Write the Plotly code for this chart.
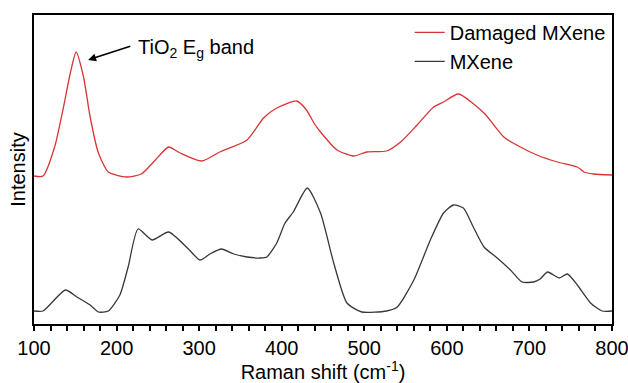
import plotly.graph_objects as go

# Damaged MXene (arbitrary intensity units)
shift_damaged = [100, 111, 125, 135, 144, 151, 160, 168, 178, 190, 212, 230, 247, 263, 277,
                 303, 325, 358, 378, 394, 418, 430, 439, 447, 467, 487, 503, 527, 544, 564,
                 584, 596, 614, 645, 669, 689, 709, 734, 758, 766, 778, 800]
int_damaged = [148, 148, 177, 214, 251, 272, 247, 207, 171, 152, 147, 150, 164, 177, 171,
               163, 172, 184, 206, 216, 223, 214, 201, 192, 174, 168, 172, 173, 182, 199,
               217, 222, 230, 211, 187, 177, 169, 162, 157, 152, 150, 149]

# MXene
shift_mxene = [100, 111, 138, 152, 168, 178, 190, 204, 214, 226, 243, 263, 287, 301, 313,
               327, 342, 358, 374, 382, 394, 404, 414, 431, 447, 463, 479, 497, 527, 540,
               560, 580, 596, 608, 620, 632, 645, 661, 677, 691, 705, 713, 722, 736, 746,
               758, 774, 788, 800]
int_mxene = [13, 13, 34, 27, 19, 12, 13, 29, 57, 95, 84, 92, 75, 64, 70,
             75, 70, 67, 66, 67, 81, 101, 112, 136, 111, 61, 21, 12, 13, 17,
             44, 84, 111, 119, 116, 97, 77, 66, 54, 42, 42, 45, 52, 46, 50,
             39, 21, 13, 13]

x_tick_vals = [100, 200, 300, 400, 500, 600, 700, 800]
x_tick_text = ["100", "200", "300", "400", "500", "600", "700", "800"]

FONT = "Arial, Liberation Sans, sans-serif"
FS = 20

fig = go.Figure()
fig.add_trace(go.Scatter(x=shift_damaged, y=int_damaged, mode="lines", name="Damaged MXene",
                         line=dict(color="#d83434", width=1.3, shape="spline", smoothing=0.6),
                         legendgroup="a"))
fig.add_trace(go.Scatter(x=shift_mxene, y=int_mxene, mode="lines", name="MXene",
                         line=dict(color="#383838", width=1.3, shape="spline", smoothing=0.6),
                         legendgroup="b"))

fig.add_annotation(x=165.5, y=264, ax=218.4, ay=278.3, xref="x", yref="y", axref="x", ayref="y",
                   text="", showarrow=True, arrowhead=2, arrowsize=1, arrowwidth=1.6,
                   arrowcolor="black")
fig.add_annotation(x=223.6, y=276, xref="x", yref="y", xanchor="left", yanchor="middle",
                   text="TiO<sub>2</sub> E<sub>g</sub> band", showarrow=False,
                   font=dict(family=FONT, size=FS, color="black"))

fig.update_layout(
    width=628, height=383,
    margin=dict(l=34, r=16, t=15, b=59),
    paper_bgcolor="white", plot_bgcolor="white",
    font=dict(family=FONT, size=FS, color="black"),
    showlegend=True,
    legend=dict(x=0.650, y=1.007, xanchor="left", yanchor="top", bgcolor="rgba(0,0,0,0)",
                traceorder="grouped", tracegroupgap=0, font=dict(family=FONT, size=FS)),
)
fig.update_xaxes(range=[100, 800], tickvals=x_tick_vals, ticktext=x_tick_text,
                 ticks="outside", ticklen=5, tickwidth=1.5, tickcolor="black",
                 ticklabeloverflow="allow",
                 minor=dict(dtick=20, ticks="outside", ticklen=5, tickwidth=1.5, tickcolor="black"),
                 showline=True, linewidth=2, linecolor="black", mirror=True,
                 showgrid=False, zeroline=False,
                 title=dict(text="Raman shift (cm<sup>-1</sup>)", standoff=13,
                            font=dict(family=FONT, size=FS)),
                 automargin=False)
fig.update_yaxes(range=[0, 309], showticklabels=False, ticks="",
                 showline=True, linewidth=2, linecolor="black", mirror=True,
                 showgrid=False, zeroline=False,
                 title=dict(text="Intensity", standoff=1, font=dict(family=FONT, size=FS)),
                 automargin=False)

fig.write_html("out.html", config={"displayModeBar": False},
               post_script="document.body.style.margin='0';document.body.style.padding='0';")
